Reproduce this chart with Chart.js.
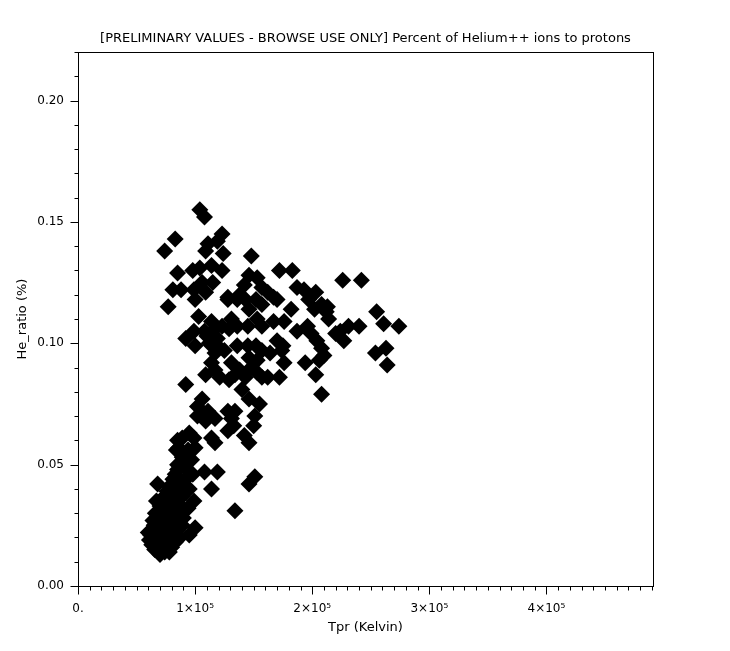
<!DOCTYPE html>
<html>
<head>
<meta charset="utf-8">
<script src="https://cdn.jsdelivr.net/npm/chart.js@4"></script>
<style>
  body { margin: 0; background: #fff; }
</style>
</head>
<body>
<canvas id="grafico" width="730" height="651"></canvas>
<script>
// Tpr (Kelvin) in units of 1e5, He_ratio (%)
const tprGrupoSuperior = [0.74, 0.83, 0.77, 0.81, 0.85, 0.88, 0.92, 0.92, 0.98, 0.99, 1.00, 1.03, 1.04, 1.04, 1.08, 1.09, 1.11, 1.09, 1.06, 1.15, 1.19, 1.23, 1.24, 1.23, 1.28, 1.14, 1.17, 1.10, 0.99, 1.00, 1.14, 1.08, 1.12, 1.19, 1.23, 1.31, 1.36, 1.28];
const heGrupoSuperior = [0.138, 0.143, 0.115, 0.122, 0.129, 0.122, 0.102, 0.083, 0.130, 0.122, 0.118, 0.111, 0.131, 0.155, 0.152, 0.138, 0.141, 0.121, 0.125, 0.125, 0.142, 0.145, 0.137, 0.130, 0.118, 0.109, 0.106, 0.103, 0.105, 0.099, 0.132, 0.105, 0.100, 0.102, 0.107, 0.110, 0.118, 0.119];

const tprGrupoDireito = [1.83, 1.72, 2.26, 2.42, 1.87, 1.93, 2.03, 1.97, 2.08, 2.13, 2.14, 2.02, 2.12, 2.55, 2.61, 2.74, 2.31, 2.24, 2.20, 2.27, 2.40, 1.96, 1.99, 2.04, 2.08, 2.10, 2.06, 2.03, 2.08, 1.94, 2.63, 2.54, 2.64, 1.76, 1.74, 1.70, 1.75, 1.64, 1.62, 1.72, 1.82, 1.87, 1.76, 1.67, 1.67, 1.62, 1.70, 1.57, 1.53, 1.46, 1.48, 1.42, 1.38, 1.43, 1.52, 1.57, 1.46, 1.53, 1.57, 1.45, 1.36, 1.29, 1.36, 1.45, 1.52, 1.57, 1.46, 1.53, 1.48, 1.53, 1.57, 1.43, 1.38, 1.31, 1.25, 1.19, 1.17, 1.14, 1.17, 1.09, 1.21, 1.29, 1.34, 1.40, 1.46, 1.55, 1.06, 1.11, 1.17, 1.09, 1.02, 1.28, 1.31, 1.34, 1.28, 1.33, 1.14, 1.17, 1.42, 1.46, 1.50, 1.51, 1.46, 1.51, 1.14, 1.19, 1.08, 1.34];
const heGrupoDireito = [0.130, 0.130, 0.126, 0.126, 0.123, 0.122, 0.121, 0.118, 0.116, 0.115, 0.110, 0.114, 0.113, 0.113, 0.108, 0.107, 0.107, 0.105, 0.104, 0.101, 0.107, 0.107, 0.104, 0.101, 0.098, 0.095, 0.093, 0.087, 0.079, 0.092, 0.098, 0.096, 0.091, 0.092, 0.097, 0.101, 0.099, 0.096, 0.086, 0.086, 0.114, 0.105, 0.109, 0.109, 0.119, 0.121, 0.118, 0.123, 0.127, 0.128, 0.136, 0.124, 0.120, 0.118, 0.118, 0.116, 0.114, 0.110, 0.107, 0.107, 0.107, 0.106, 0.099, 0.099, 0.099, 0.097, 0.094, 0.093, 0.090, 0.088, 0.086, 0.086, 0.089, 0.092, 0.097, 0.099, 0.096, 0.092, 0.089, 0.087, 0.086, 0.085, 0.087, 0.081, 0.077, 0.075, 0.077, 0.072, 0.069, 0.068, 0.070, 0.072, 0.069, 0.072, 0.064, 0.066, 0.061, 0.059, 0.062, 0.059, 0.066, 0.070, 0.042, 0.045, 0.040, 0.047, 0.047, 0.031];

const tprGrupoMeio = [0.89, 0.85, 0.95, 0.99, 1.00, 0.94, 0.89, 0.97, 0.91, 0.85, 0.98, 0.92, 0.87, 0.95, 0.89, 0.99, 0.94, 0.95, 1.00, 1.02, 0.84, 0.86];
const heGrupoMeio = [0.061, 0.060, 0.063, 0.061, 0.057, 0.056, 0.053, 0.052, 0.049, 0.050, 0.046, 0.044, 0.042, 0.040, 0.037, 0.035, 0.032, 0.021, 0.024, 0.074, 0.056, 0.057];

const tprGrupoInferior = [0.60, 0.61, 0.63, 0.655, 0.70, 0.74, 0.78, 0.68, 0.64, 0.66, 0.70, 0.72, 0.76, 0.78, 0.81, 0.83, 0.85, 0.70, 0.74, 0.78, 0.83, 0.85, 0.655, 0.71, 0.77, 0.81, 0.85, 0.89, 0.68, 0.74, 0.80, 0.85, 0.89, 0.71, 0.77, 0.83, 0.87, 0.80, 0.78, 0.75, 0.83, 0.87, 0.70, 0.65, 0.62, 0.67, 0.73, 0.79, 0.76, 0.82, 0.86, 0.90];
const heGrupoInferior = [0.022, 0.019, 0.017, 0.015, 0.013, 0.014, 0.014, 0.042, 0.027, 0.030, 0.033, 0.036, 0.039, 0.041, 0.044, 0.046, 0.048, 0.027, 0.029, 0.031, 0.035, 0.037, 0.023, 0.023, 0.025, 0.027, 0.029, 0.031, 0.019, 0.020, 0.021, 0.023, 0.025, 0.017, 0.017, 0.018, 0.020, 0.016, 0.036, 0.033, 0.040, 0.044, 0.030, 0.025, 0.021, 0.035, 0.026, 0.028, 0.022, 0.033, 0.034, 0.028];

const tickX = [0, 100000, 200000, 300000, 400000];
const tickY = [0, 0.05, 0.10, 0.15, 0.20];

const corPonto = "#000000";
const fonte = { family: "'DejaVu Sans', sans-serif", size: 12 };
const fonteTitulo = { family: "'DejaVu Sans', sans-serif", size: 13, weight: "normal" };

function montarPontos(tprs, hes) {
    return tprs.map((t, i) => ({ x: Math.round(t * 100000), y: hes[i] }));
}

const pontos = [
    ...montarPontos(tprGrupoSuperior, heGrupoSuperior),
    ...montarPontos(tprGrupoDireito, heGrupoDireito),
    ...montarPontos(tprGrupoMeio, heGrupoMeio),
    ...montarPontos(tprGrupoInferior, heGrupoInferior)
];

function rotuloX(valor) {
    if (valor === 0) return "0.";
    return `${valor / 100000}×10⁵`;
}

// moldura e marcas de escala (maiores e menores)
const molduraEMarcas = {
    id: "molduraEMarcas",
    afterDraw(chart) {
        const ctx = chart.ctx;
        const area = chart.chartArea;
        const sx = chart.scales.x;
        const sy = chart.scales.y;
        ctx.save();
        ctx.strokeStyle = "#000";
        ctx.lineWidth = 1;
        ctx.strokeRect(Math.round(area.left) + 0.5, Math.round(area.top) + 0.5,
            Math.round(area.right - area.left), Math.round(area.bottom - area.top));
        ctx.beginPath();
        const base = Math.round(area.bottom) + 0.5;
        for (let v = 0; v <= sx.max; v += 10000) {
            const px = Math.round(sx.getPixelForValue(v)) + 0.5;
            const tam = v % 100000 === 0 ? 8 : 4;
            ctx.moveTo(px, base);
            ctx.lineTo(px, base + tam);
        }
        const esq = Math.round(area.left) + 0.5;
        for (let i = 0; i * 0.01 <= sy.max + 1e-9; i++) {
            const py = Math.round(sy.getPixelForValue(i * 0.01)) + 0.5;
            const tam = i % 5 === 0 ? 8 : 4;
            ctx.moveTo(esq, py);
            ctx.lineTo(esq - tam, py);
        }
        ctx.stroke();
        ctx.restore();
    }
};

const chart = new Chart(document.querySelector("#grafico"), {
    type: "scatter",
    data: {
        datasets: [{
            label: "He_ratio",
            data: pontos,
            pointStyle: "rectRot",
            pointRadius: 8.5,
            pointHoverRadius: 8.5,
            backgroundColor: corPonto,
            borderColor: corPonto,
            borderWidth: 0
        }]
    },
    options: {
        responsive: false,
        animation: false,
        devicePixelRatio: 1,
        layout: { padding: { left: 0, right: 77, top: 0, bottom: 0 } },
        plugins: {
            legend: { display: false },
            tooltip: { enabled: false },
            title: {
                display: true,
                fullSize: false,
                text: "[PRELIMINARY VALUES - BROWSE USE ONLY] Percent of Helium++ ions to protons",
                color: "#000",
                font: fonteTitulo,
                padding: { top: 31, bottom: 5.4 }
            }
        },
        scales: {
            x: {
                type: "linear",
                min: 0,
                max: 491000,
                afterFit: (escala) => { escala.height = 65; },
                afterBuildTicks: (escala) => { escala.ticks = tickX.map(v => ({ value: v })); },
                grid: { display: false, drawTicks: false },
                border: { display: false },
                ticks: {
                    autoSkip: false,
                    maxRotation: 0,
                    color: "#000",
                    font: fonte,
                    padding: 16,
                    callback: rotuloX
                },
                title: {
                    display: true,
                    text: "Tpr (Kelvin)",
                    color: "#000",
                    font: fonteTitulo,
                    padding: { top: 0, bottom: 15.7 }
                }
            },
            y: {
                type: "linear",
                min: 0,
                max: 0.22,
                afterFit: (escala) => { escala.width = 78; },
                afterBuildTicks: (escala) => { escala.ticks = tickY.map(v => ({ value: v })); },
                grid: { display: false, drawTicks: false },
                border: { display: false },
                ticks: {
                    autoSkip: false,
                    color: "#000",
                    font: fonte,
                    padding: 14,
                    callback: (v) => v.toFixed(2)
                },
                title: {
                    display: true,
                    text: "He_ratio (%)",
                    color: "#000",
                    font: fonteTitulo,
                    padding: { top: 14.7, bottom: 0 }
                }
            }
        }
    },
    plugins: [molduraEMarcas]
});
</script>
</body>
</html>
